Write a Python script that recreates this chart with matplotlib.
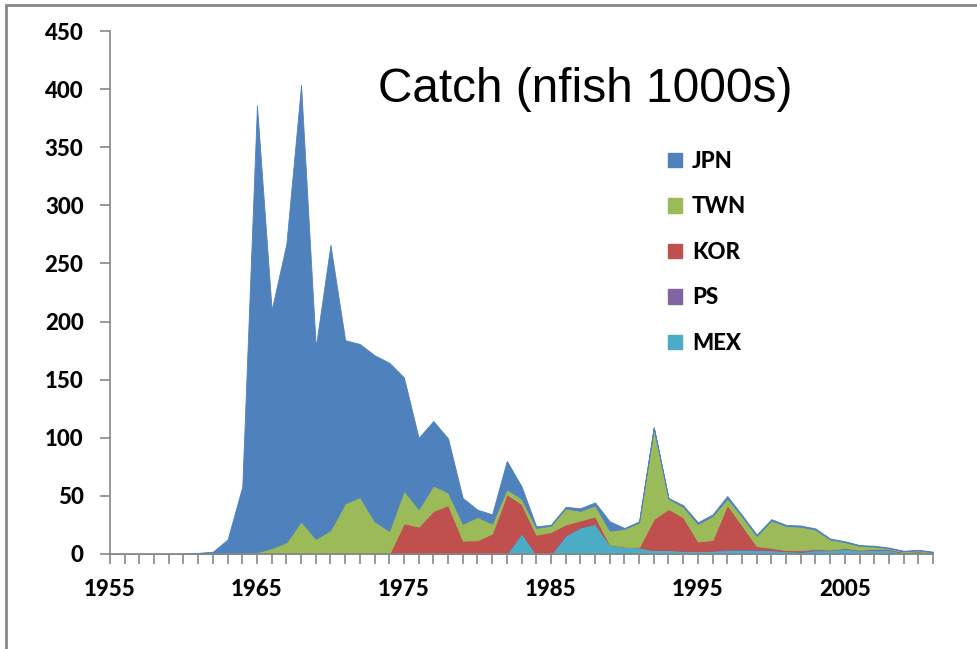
import matplotlib
matplotlib.use("Agg")
import matplotlib.pyplot as plt
import matplotlib.patches as mpatches
import numpy as np

years = list(range(1955, 2012))

jpn = [0, 0, 0, 0, 0, 0.3, 1, 2, 12.5, 58,
       384.5, 205, 257, 375.5, 165, 245.5, 140.5, 131.7, 143, 144.6,
       97.5, 61.3, 55.6, 46.7, 22.2, 6.3, 8, 24.4, 10.6, 1.4,
       0.8, 1.4, 2.3, 2.6, 8, 0.9, 0.9, 0.9, 0.6, 1.5,
       1.5, 1.4, 2.0, 1.3, 1.2, 1.2, 1, 1, 1, 0.8,
       0.8, 0.7, 0.6, 0.6, 0.5, 0.5, 0.5]
twn = [0, 0, 0, 0, 0, 0, 0, 0, 0, 0,
       1.5, 5, 10, 28, 13, 20.5, 43.5, 49, 28, 20,
       28, 15.2, 21.8, 10.8, 14.5, 20, 8.6, 4.3, 4.6, 5.8,
       5.5, 13.8, 8.3, 9.5, 12.1, 15.2, 21.5, 78.3, 8.9, 9,
       15.1, 20.7, 5.7, 7.8, 8.7, 23.5, 20.8, 20.3, 16.6, 8.8,
       5.1, 3.4, 2.1, 0.8, 0.8, 0.9, 0.3]
kor = [0, 0, 0, 0, 0, 0, 0, 0, 0, 0,
       0, 0, 0, 0, 0, 0, 0, 0, 0, 0,
       26.4, 23.5, 37, 42, 11.5, 11.8, 17.1, 50.9, 25, 16.6,
       18.9, 9.4, 5.8, 6.3, 0, 0, 0, 26.7, 35.3, 28.5,
       8.2, 8.9, 38, 20, 2.8, 1.6, 0.5, 0, 0, 0,
       0, 0, 0, 0, 0, 0, 0]
ps = [0, 0, 0, 0, 0, 0, 0, 0, 0, 0,
      0, 0, 0, 0, 0, 0, 0, 0, 0, 0,
      0, 0, 0, 0, 0, 0, 0, 0, 0, 0,
      0, 0, 0, 0, 0, 0, 0, 0, 0, 0,
      0, 0.3, 0.8, 0.8, 0.5, 0.5, 0.5, 1.5, 1.2, 0.5,
      0.8, 0.6, 0.8, 0.6, 0.6, 0.8, 0.3]
mex = [0, 0, 0, 0, 0, 0, 0, 0, 0, 0,
       0, 0, 0, 0, 0, 0, 0, 0, 0, 0,
       0, 0, 0, 0, 0, 0, 0.5, 0.5, 18, 0,
       0, 16, 23, 26, 8, 6.3, 5.7, 3.4, 3.4, 3.0,
       2.5, 2.8, 3.4, 3.7, 3.5, 3.2, 2.3, 1.7, 3.2, 3.2,
       4.3, 3.0, 3.6, 3.5, 0.9, 1.4, 0.9]

series_names = ["JPN", "TWN", "KOR", "PS", "MEX"]
colors = {"JPN": "#4F81BD", "TWN": "#9BBB59", "KOR": "#C0504D",
          "PS": "#8064A2", "MEX": "#4BACC6"}
y_ticks = list(range(0, 451, 50))
x_labels = [1955, 1965, 1975, 1985, 1995, 2005]
title = "Catch (nfish 1000s)"

W, H = 978, 649
fig = plt.figure(figsize=(W / 100, H / 100), dpi=100)
ax = fig.add_axes([110 / W, 1 - 554 / H, (933 - 110) / W, (554 - 31) / H])

# figure border (left/top visible)
fig.patches.append(mpatches.Rectangle((6 / W, -0.1), 1.2, 1 - 5 / H + 0.1,
                                      transform=fig.transFigure, fill=False,
                                      edgecolor="#878787", linewidth=2))

stack_order = ["MEX", "PS", "KOR", "TWN", "JPN"]
data = {"JPN": jpn, "TWN": twn, "KOR": kor, "PS": ps, "MEX": mex}
ax.stackplot(years, *[data[n] for n in stack_order],
             colors=[colors[n] for n in stack_order],
             edgecolor="face", linewidth=0.6)

ax.set_xlim(1955, 2011)
ax.set_ylim(0, 450)
for s in ["top", "right"]:
    ax.spines[s].set_visible(False)
for s in ["left", "bottom"]:
    ax.spines[s].set_color("#878787")
    ax.spines[s].set_linewidth(1.2)

ax.set_yticks(y_ticks)
ax.set_xticks(years)
ax.set_xticklabels([str(y) if y in x_labels else "" for y in years])
ax.tick_params(axis="both", direction="out", length=7, width=1.2,
               color="#878787", labelcolor="black")
ax.tick_params(axis="y", pad=12)
ax.tick_params(axis="x", pad=11)
for lab in ax.get_xticklabels() + ax.get_yticklabels():
    lab.set_fontfamily("Lato")
    lab.set_fontweight("black")
    lab.set_fontsize(16)

fig.text(378 / W, 1 - 90 / H, title, fontfamily="Liberation Sans",
         fontsize=34.4, ha="left", va="center")

handles = [mpatches.Patch(color=colors[n], label=n) for n in series_names]
leg = fig.legend(handles=handles, loc="upper left",
                 bbox_to_anchor=(668 / W, 1 - 151 / H), frameon=False,
                 prop=dict(family="Lato", weight="black", size=16),
                 handlelength=0.62, handleheight=0.62, handletextpad=0.45,
                 labelspacing=1.1, borderpad=0, borderaxespad=0)

fig.savefig("out.png", dpi=100)
